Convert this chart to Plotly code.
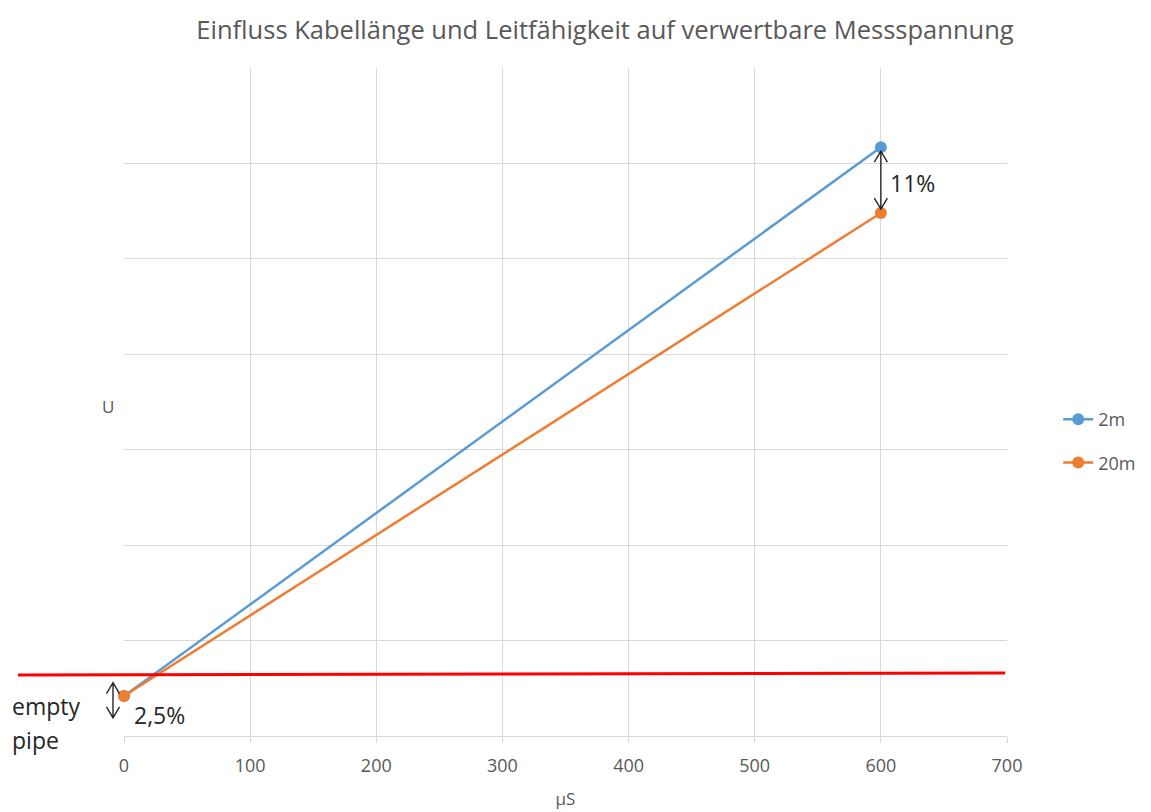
import plotly.graph_objects as go

x_vals = [0, 600]
y_2m = [0.42, 6.17]
y_20m = [0.42, 5.48]
series_names = ["2m", "20m"]
colors = ["#5b9bd5", "#ed7d31"]
x_ticks = [0, 100, 200, 300, 400, 500, 600, 700]
red_level = [0.64, 0.66]

fnt = "Open Sans, Liberation Sans, sans-serif"
grey = "#595959"
dark = "#262626"

W, H = 1143, 804
L, R, T, B = 116, 144, 60, 76
PW = W - L - R          # plot width px
PH = H - T - B          # plot height px
YMAX = 7.0

fig = go.Figure()
for i, (name, ys, c) in enumerate(zip(series_names, [y_2m, y_20m], colors)):
    fig.add_trace(go.Scatter(x=x_vals, y=ys, name=name, mode="lines+markers",
                             legendgroup=f"g{i}", cliponaxis=False,
                             line=dict(color=c, width=2.5),
                             marker=dict(color=c, size=12)))

# red empty-pipe line
fig.add_shape(type="line", xref="paper", yref="y", x0=-0.12, x1=0.998,
              y0=red_level[0], y1=red_level[1], line=dict(color="#ff0000", width=3))

# double arrows with open V heads (paper x, data y)
def double_arrow(xp, y_top, y_bot):
    hw = 6.5 / PW            # half head width in paper units
    hh = 11 / PH * YMAX      # head height in data units
    path = (f"M {xp},{y_top} L {xp},{y_bot} "
            f"M {xp - hw},{y_top - hh} L {xp},{y_top} L {xp + hw},{y_top - hh} "
            f"M {xp - hw},{y_bot + hh} L {xp},{y_bot} L {xp + hw},{y_bot + hh}")
    fig.add_shape(type="path", xref="paper", yref="y", path=path,
                  line=dict(color=dark, width=1.4))

double_arrow(600 / 700, y_2m[1] - 0.04, y_20m[1] + 0.04)
double_arrow(-11 / PW, 0.56, 0.19)

ann_font = dict(size=23, color=dark, family=fnt)
fig.add_annotation(x=606, y=5.80, xref="x", yref="y", text="11%",
                   showarrow=False, xanchor="left", font=ann_font)
fig.add_annotation(x=6, y=0.22, xref="x", yref="y", text="2,5%",
                   showarrow=False, xanchor="left", font=ann_font)
fig.add_annotation(x=-114 / PW, y=(PH - (706 - 68)) / PH, xref="paper", yref="paper", text="empty",
                   showarrow=False, xanchor="left", yanchor="middle", font=ann_font)
fig.add_annotation(x=-114 / PW, y=(PH - (740 - 68)) / PH, xref="paper", yref="paper", text="pipe",
                   showarrow=False, xanchor="left", yanchor="middle", font=ann_font)
fig.add_annotation(x=-8 / PW, y=3.45, xref="paper", yref="y", text="U",
                   showarrow=False, xanchor="right", font=dict(size=17, color=grey, family=fnt))

fig.update_layout(
    width=W, height=H,
    margin=dict(l=L, r=R, t=T, b=B, autoexpand=False),
    paper_bgcolor="white", plot_bgcolor="white",
    font=dict(family=fnt, color=grey, size=17),
    title=dict(text="Einfluss Kabellänge und Leitfähigkeit auf verwertbare Messspannung",
               x=(605 - 8) / W, xanchor="center", y=1 - 22 / H, yanchor="middle",
               font=dict(size=25.5, color=grey, family=fnt)),
    xaxis=dict(range=[0, 700], tickvals=x_ticks, showgrid=True, gridcolor="#d9d9d9",
               zeroline=False, showline=True, linecolor="#d9d9d9",
               ticks="outside", ticklen=6, tickcolor="#d9d9d9", ticklabelstandoff=7,
               tickfont=dict(size=18, color=grey),
               title=dict(text="µS", font=dict(size=17, color=grey), standoff=17)),
    yaxis=dict(range=[0, YMAX], dtick=1, showticklabels=False, showgrid=True,
               gridcolor="#d9d9d9", zeroline=False, showline=False),
    legend=dict(x=1.058, y=(PH - (441 - 68)) / PH, xanchor="left", yanchor="middle",
                font=dict(size=18, color=grey), tracegroupgap=17, traceorder="grouped"),
    showlegend=True,
)
fig.write_html("out.html")
